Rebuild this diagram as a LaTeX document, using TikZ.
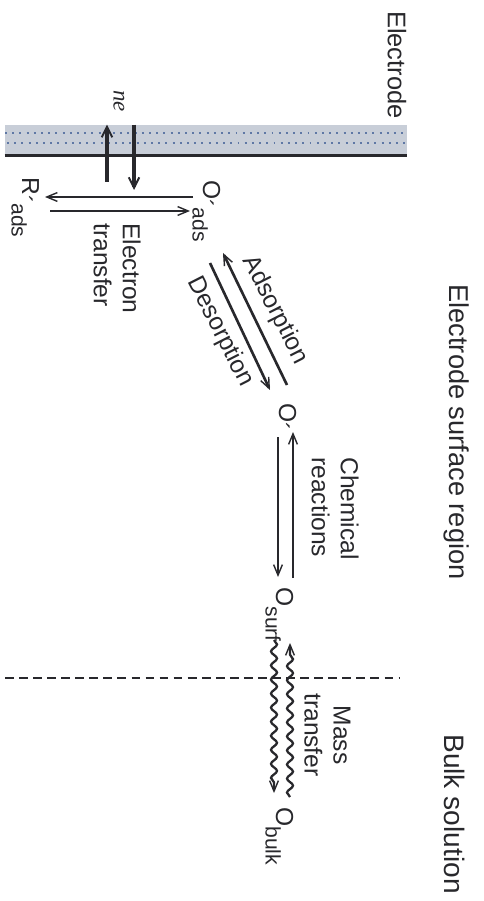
\documentclass[tikz,border=0pt]{standalone}
\usepackage{fontspec}
\setmainfont{Liberation Sans}
\newfontfamily\seriffam{Liberation Serif}
\usetikzlibrary{arrows.meta,decorations.pathmorphing,fit}

\definecolor{ink}{RGB}{40,40,44}
\definecolor{bandfill}{RGB}{200,206,216}
\definecolor{banddot}{RGB}{95,120,165}

% species helpers
\newcommand\primemark{\raisebox{-0.3em}{\char"00B4}}
\newcommand\chemsub[1]{\raisebox{-0.42em}{\fontsize{12}{12}\selectfont #1}}

\begin{document}
\begin{tikzpicture}[x=0.02cm,y=-0.02cm,
  lbl/.style={font=\fontsize{14}{16.5}\selectfont, inner sep=0pt, text=ink},
  vlbl/.style={lbl, rotate=-90},
  species/.style={vlbl, anchor=base west},
  rxn/.style={draw=ink, line width=1.5pt,
    -{Straight Barb[length=6pt,width=5pt,line width=0.8pt]}},
  eflow/.style={draw=ink, line width=2.1pt,
    -{Straight Barb[length=6pt,width=6pt,line width=1.1pt]}},
  wavy/.style={draw=ink, line width=1.3pt,
    -{Straight Barb[length=6pt,width=5pt,line width=0.8pt]},
    decorate, decoration={snake, amplitude=1.7pt, segment length=8pt, post length=6pt}},
  boundary/.style={draw=ink, line width=1pt, dash pattern=on 5pt off 3pt}]
\useasboundingbox (0,0) rectangle (483,901);

% electrode band
\node[fit={(5,125) (407,155)}, inner sep=0pt, fill=bandfill] (band) {};
\draw[banddot, line width=1.1pt, dash pattern=on 1.1pt off 3pt] (5,133) -- (407,133);
\draw[banddot, line width=1.1pt, dash pattern=on 1.1pt off 3pt] (7,143) -- (407,143);
\draw[ink, line width=1.9pt] (band.south west) -- (band.south east);

% region labels
\node[vlbl, font=\fontsize{14.5}{17}\selectfont] (electrode) at (397,65) {Electrode};
\node[vlbl, font=\fontsize{15.5}{18}\selectfont] (surface) at (457,432) {Electrode surface region};
\node[vlbl, font=\fontsize{16}{19}\selectfont] (bulk) at (455,814) {Bulk solution};

% solution / surface boundary
\draw[boundary] (5,678) -- (400,678);

% species
\node[species] (Oads) at (203,180) {O\primemark\chemsub{ads}};
\node[species] (Rads) at (22,177) {R\primemark\chemsub{ads}};
\node[species] (Oprime) at (279,403) {O\primemark};
\node[species] (Osurf) at (276,587) {O\chemsub{surf}};
\node[species] (Obulk) at (276,807) {O\chemsub{bulk}};

% electrons through the electrode
\node[vlbl, font=\seriffam\itshape\fontsize{13}{13}\selectfont] (ne) at (119,101) {ne};
\coordinate (e-out) at (107,182);
\coordinate (e-in) at (134,190);
\draw[eflow] (e-out) -- (e-out |- band.north);
\draw[eflow] (e-in |- band.north) -- (e-in);

% electron transfer
\draw[rxn] ([shift={(-10,17)}]Oads.base west) -- ([shift={(23,20)}]Rads.base west);
\draw[rxn] ([shift={(28,34)}]Rads.base west) -- ([shift={(-13,31)}]Oads.base west);
\node[vlbl, anchor=north west, align=left] (et) at (141,223) {Electron\\transfer};

% adsorption / desorption
\draw[rxn] ([shift={(8,-18)}]Oprime.base west) -- ([shift={(20,73)}]Oads.base west);
\draw[rxn] ([shift={(7,83)}]Oads.base west) -- ([shift={(-9,-13)}]Oprime.base west);
\node[lbl, rotate=-63] (adsorp) at (275,310) {Adsorption};
\node[lbl, rotate=-63] (desorp) at (220,332) {Desorption};

% chemical reactions
\draw[rxn] ([shift={(17,-9)}]Osurf.base west) -- ([shift={(14,29)}]Oprime.base west);
\draw[rxn] ([shift={(-1,34)}]Oprime.base west) -- ([shift={(2,-10)}]Osurf.base west);
\node[vlbl, anchor=north west, align=left] (chem) at (359,457) {Chemical\\reactions};

% mass transfer
\draw[wavy] ([shift={(-2,53)}]Osurf.base west) -- ([shift={(-2,-14)}]Obulk.base west);
\draw[wavy] ([shift={(14,-10)}]Obulk.base west) -- ([shift={(14,56)}]Osurf.base west);
\node[vlbl, anchor=north, align=center] (mass) at (351,735) {Mass\\transfer};
\end{tikzpicture}
\end{document}
